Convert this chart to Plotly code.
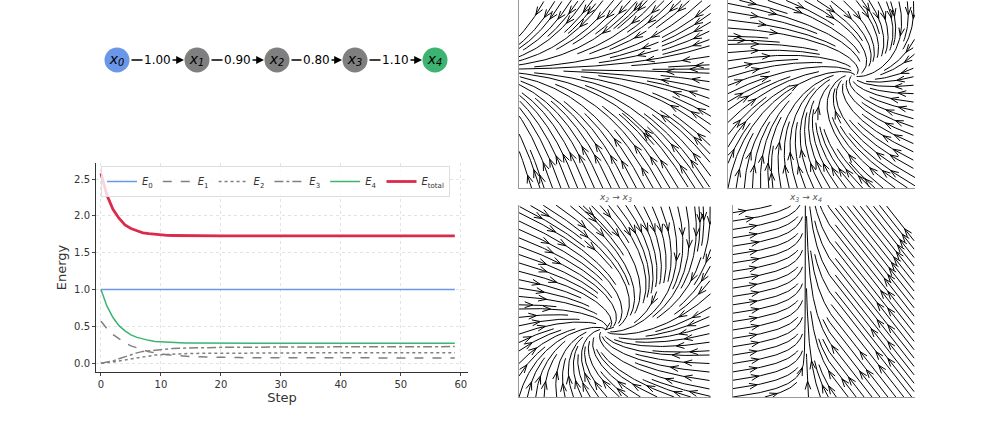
import numpy as np
import plotly.graph_objects as go
import plotly.figure_factory as ff

steps = list(range(60))
E0 = [1.0]*60
E1 = [0.57,0.47,0.39,0.33,0.275,0.235,0.205,0.175,0.155,0.14,0.125,0.115,0.108,0.10,0.095,0.09,0.087,0.084,0.082,0.08,
      0.078,0.077,0.076,0.076,0.075,0.075,0.074,0.074,0.073,0.073,0.073,0.072,0.072,0.072,0.072,0.071,0.071,0.071,0.071,0.071,
      0.071,0.07,0.07,0.07,0.07,0.07,0.07,0.07,0.07,0.07,0.07,0.07,0.07,0.07,0.07,0.07,0.07,0.07,0.07,0.07]
E2 = [0.0,0.005,0.015,0.03,0.045,0.06,0.075,0.09,0.10,0.11,0.115,0.12,0.125,0.128,0.13,0.132,0.133,0.134,0.135,0.136,
      0.137,0.137,0.138,0.138,0.138,0.139,0.139,0.139,0.139,0.14,0.14,0.14,0.14,0.14,0.14,0.14,0.14,0.14,0.14,0.14,
      0.14,0.14,0.14,0.14,0.14,0.14,0.14,0.14,0.14,0.14,0.14,0.14,0.14,0.14,0.14,0.14,0.14,0.14,0.14,0.14]
E3 = [0.0,0.01,0.03,0.06,0.09,0.12,0.14,0.16,0.17,0.18,0.19,0.195,0.20,0.203,0.206,0.208,0.21,0.211,0.212,0.213,
      0.215,0.215,0.216,0.216,0.217,0.217,0.218,0.218,0.219,0.219,0.22,0.22,0.22,0.22,0.221,0.221,0.221,0.221,0.222,0.222,
      0.222,0.222,0.222,0.223,0.223,0.223,0.223,0.223,0.224,0.224,0.224,0.224,0.224,0.224,0.225,0.225,0.225,0.225,0.225,0.225]
E4 = [1.0,0.775,0.62,0.51,0.44,0.385,0.35,0.325,0.31,0.296,0.29,0.282,0.278,0.275,0.274,0.273,0.272,0.271,0.27,0.27,
      0.27,0.27,0.27,0.27,0.27,0.27,0.27,0.27,0.27,0.27,0.27,0.27,0.27,0.27,0.27,0.27,0.27,0.27,0.27,0.27,
      0.27,0.27,0.27,0.27,0.27,0.27,0.27,0.27,0.27,0.27,0.27,0.27,0.27,0.27,0.27,0.27,0.27,0.27,0.27,0.27]
Etot = [2.58,2.28,2.09,1.97,1.88,1.83,1.80,1.77,1.76,1.75,1.74,1.737,1.735,1.733,1.732,1.731,1.73,1.73,1.73,1.73,
        1.73,1.73,1.73,1.73,1.73,1.73,1.73,1.73,1.73,1.73,1.73,1.73,1.73,1.73,1.73,1.73,1.73,1.73,1.73,1.73,
        1.73,1.73,1.73,1.73,1.73,1.73,1.73,1.73,1.73,1.73,1.73,1.73,1.73,1.73,1.73,1.73,1.73,1.73,1.73,1.73]

node_labels = ["x<sub>0</sub>","x<sub>1</sub>","x<sub>2</sub>","x<sub>3</sub>","x<sub>4</sub>"]
node_x = [117,197,277,355,435]
node_colors = ["#6c96e8","#7f7f7f","#7f7f7f","#7f7f7f","#3cb371"]
edge_weights = ["1.00","0.90","0.80","1.10"]
panel_titles = ["","","x<sub>2</sub> → x<sub>3</sub>","x<sub>3</sub> → x<sub>4</sub>"]

fig = go.Figure()

series = [("<i>E</i><sub>0</sub>",E0,"#6c96e8","solid",1.5),
          ("<i>E</i><sub>1</sub>",E1,"#808080","dash",1.5),
          ("<i>E</i><sub>2</sub>",E2,"#808080","dot",1.5),
          ("<i>E</i><sub>3</sub>",E3,"#808080","dashdot",1.5),
          ("<i>E</i><sub>4</sub>",E4,"#3cb371","solid",1.5),
          ("<i>E</i><sub>total</sub>",Etot,"#dc2a4a","solid",2.8)]
for name,vals,c,d,w in series:
    fig.add_trace(go.Scatter(x=steps,y=vals,name=name,mode="lines",
                             line=dict(color=c,dash=d,width=w),xaxis="x",yaxis="y"))

fig.update_layout(
    xaxis=dict(domain=[96/990,468/990],range=[-0.83,61.2],tickvals=[0,10,20,30,40,50,60],
               showgrid=True,gridcolor="#e3e3e3",griddash="dot",zeroline=False,automargin=False,
               showline=True,linecolor="#333",ticks="outside",ticklen=3,anchor="y",
               title=dict(text="Step",font=dict(size=13),standoff=2),tickfont=dict(size=10)),
    yaxis=dict(domain=[1-372/425,1-163/425],range=[-0.12,2.72],tickvals=[0,0.5,1,1.5,2,2.5],
               tickformat=".1f",showgrid=True,gridcolor="#e3e3e3",griddash="dot",zeroline=False,
               showline=True,linecolor="#333",ticks="outside",ticklen=3,automargin=False,anchor="x",
               title=dict(text="Energy",font=dict(size=13),standoff=4),tickfont=dict(size=10)),
)

fig.update_layout(
    xaxis2=dict(domain=[0,0.5],range=[0,495],visible=False,showline=False,fixedrange=True,anchor="y2"),
    yaxis2=dict(domain=[0.7,1],range=[127.5,0],visible=False,showline=False,fixedrange=True,anchor="x2"),
)
for i in range(4):
    fig.add_annotation(x=node_x[i+1]-13,y=60,ax=node_x[i]+13,ay=60,xref="x2",yref="y2",
                       axref="x2",ayref="y2",showarrow=True,arrowhead=2,arrowsize=1.2,
                       arrowwidth=1.3,arrowcolor="black",text="")
    fig.add_annotation(x=(node_x[i]+node_x[i+1])/2,y=60,xref="x2",yref="y2",text=edge_weights[i],
                       showarrow=False,bgcolor="white",font=dict(size=12,color="black"))
fig.add_trace(go.Scatter(x=node_x,y=[60]*5,mode="markers+text",text=["<i>%s</i>"%l for l in node_labels],
                         marker=dict(size=25,color=node_colors),textfont=dict(size=14,color="black"),
                         textposition="middle center",showlegend=False,xaxis="x2",yaxis="y2",hoverinfo="skip"))

xs = np.linspace(-1,1,40); ys = np.linspace(-1,1,40)
X,Y = np.meshgrid(xs,ys)
fields = [
    (-(1.0+0.4*X), -1.8*(Y-0.26)),
    (-(X-0.35)+0.9*(Y-0.2), -(Y-0.2)-0.3*(X-0.35)),
    (-(X+0.1)+0.9*(Y+0.3), -(Y+0.3)-0.3*(X+0.1)),
    (np.where(X<-0.2, -(X+0.2), -0.5*np.clip((X+0.2)*3,0,1)), np.where(X<-0.2, 0.1, 0.6)),
]
doms = [([519/990,711/990],[1-188/425,1]),([728/990,915/990],[1-188/425,1]),
        ([519/990,711/990],[1-397/425,1-205/425]),([733/990,915/990],[1-397/425,1-205/425])]
for k,((U,V),(dx,dy)) in enumerate(zip(fields,doms)):
    ax = k+3
    sf = ff.create_streamline(xs,ys,U,V,density=1.6,arrow_scale=0.09)
    for tr in sf.data:
        fig.add_trace(go.Scatter(x=tr.x,y=tr.y,mode="lines",line=dict(color="black",width=1),
                                 showlegend=False,hoverinfo="skip",xaxis="x%d"%ax,yaxis="y%d"%ax,cliponaxis=True))
    fig.layout["xaxis%d"%ax] = dict(domain=dx,range=[-1,1],showgrid=False,zeroline=False,showticklabels=False,
                                    showline=True,linecolor="#999",ticks="",anchor="y%d"%ax,automargin=False)
    fig.layout["yaxis%d"%ax] = dict(domain=dy,range=[-1,1],showgrid=False,zeroline=False,showticklabels=False,
                                    showline=True,linecolor="#999",ticks="",anchor="x%d"%ax,automargin=False)
    if panel_titles[k]:
        fig.add_annotation(x=(dx[0]+dx[1])/2,y=dy[1],xref="paper",yref="paper",yanchor="bottom",
                           text="<i>%s</i>"%panel_titles[k],showarrow=False,font=dict(size=9,color="#555"))

fig.update_layout(width=990,height=425,margin=dict(l=0,r=0,t=0,b=0),
                  paper_bgcolor="white",plot_bgcolor="white",
                  font=dict(family="DejaVu Sans",color="#333"),
                  legend=dict(orientation="h",x=0.102,y=1-166/425,xanchor="left",yanchor="top",
                              bordercolor="#ddd",borderwidth=1,bgcolor="rgba(255,255,255,0.8)",
                              font=dict(size=10),itemwidth=30,tracegroupgap=0))
fig.write_html("out.html", config={"displayModeBar": False},
               post_script="document.body.style.margin='0';document.body.style.overflow='hidden';")
